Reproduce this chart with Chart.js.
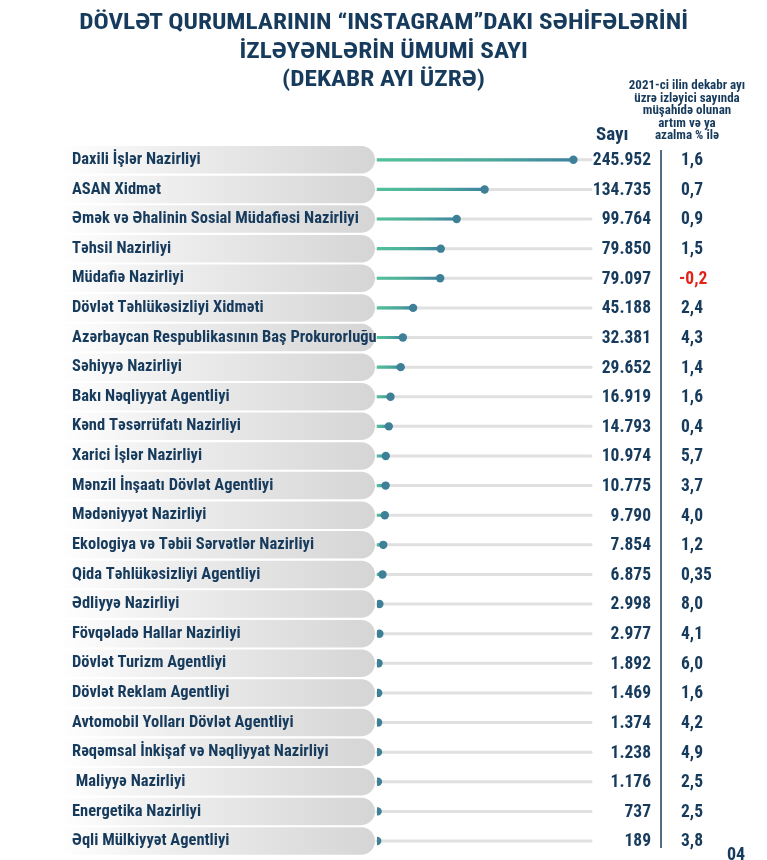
<!DOCTYPE html>
<html><head><meta charset="utf-8">
<script src="https://cdn.jsdelivr.net/npm/chart.js@4.4.0/dist/chart.umd.min.js"></script>
<style>
html,body{margin:0;padding:0;background:#fff;}
#wrap{position:relative;width:767px;height:860px;overflow:hidden;}
canvas{position:absolute;left:0;top:0;}
.t{position:absolute;font-family:"Liberation Sans Narrow","Roboto Condensed",Roboto,sans-serif;font-weight:bold;color:#173b5c;white-space:nowrap;}
#title{left:0;width:767px;top:8px;text-align:center;font-size:22px;line-height:28.5px;transform:scaleX(1.15);transform-origin:383px 0;}
#hdr{left:617px;width:140px;top:79px;text-align:center;font-size:13px;line-height:12.5px;}
#sayi{left:596px;top:122px;font-size:19px;}
#page{left:727px;top:843px;font-size:18px;}
</style></head><body>
<div id="wrap">
<canvas id="c" width="767" height="860"></canvas>
<div class="t" id="title">DÖVLƏT QURUMLARININ “INSTAGRAM”DAKI SƏHİFƏLƏRİNİ<br>İZLƏYƏNLƏRİN ÜMUMİ SAYI<br>(DEKABR AYI ÜZRƏ)</div>
<div class="t" id="hdr">2021-ci ilin dekabr ayı<br>üzrə izləyici sayında<br>müşahidə olunan<br>artım və ya<br>azalma % ilə</div>
<div class="t" id="sayi">Sayı</div>
<div class="t" id="page">04</div>
</div>
<script>
const categories = ["Daxili İşlər Nazirliyi","ASAN Xidmət","Əmək və Əhalinin Sosial Müdafiəsi Nazirliyi","Təhsil Nazirliyi","Müdafiə Nazirliyi","Dövlət Təhlükəsizliyi Xidməti","Azərbaycan Respublikasının Baş Prokurorluğu","Səhiyyə Nazirliyi","Bakı Nəqliyyat Agentliyi","Kənd Təsərrüfatı Nazirliyi","Xarici İşlər Nazirliyi","Mənzil İnşaatı Dövlət Agentliyi","Mədəniyyət Nazirliyi","Ekologiya və Təbii Sərvətlər Nazirliyi","Qida Təhlükəsizliyi Agentliyi","Ədliyyə Nazirliyi","Fövqəladə Hallar Nazirliyi","Dövlət Turizm Agentliyi","Dövlət Reklam Agentliyi","Avtomobil Yolları Dövlət Agentliyi","Rəqəmsal İnkişaf və Nəqliyyat Nazirliyi"," Maliyyə Nazirliyi","Energetika Nazirliyi","Əqli Mülkiyyət Agentliyi"];
const followers = [245952,134735,99764,79850,79097,45188,32381,29652,16919,14793,10974,10775,9790,7854,6875,2998,2977,1892,1469,1374,1238,1176,737,189];
const changePct = [1.6,0.7,0.9,1.5,-0.2,2.4,4.3,1.4,1.6,0.4,5.7,3.7,4.0,1.2,0.35,8.0,4.1,6.0,1.6,4.2,4.9,2.5,2.5,3.8];

const FONT = '"Liberation Sans Narrow","Roboto Condensed",Roboto,sans-serif';
const NAVY = '#173b5c';

function fmtThousands(v){ return String(v).replace(/\B(?=(\d{3})+(?!\d))/g,'.'); }
function fmtPct(v){ let s=String(v); if(s.indexOf('.')<0) s+='.0'; return s.replace('.',','); }

const decor = {
  id:'decor',
  beforeDraw(chart){
    const ctx=chart.ctx, a=chart.chartArea, ys=chart.scales.y;
    ctx.save();
    categories.forEach((c,i)=>{
      const y=ys.getPixelForValue(i);
      const h=27.5, x0=58, x1=375, r=h/2;
      const g=ctx.createLinearGradient(x0,0,x1,0);
      g.addColorStop(0,'#ffffff'); g.addColorStop(0.35,'#eeeeee'); g.addColorStop(1,'#d5d5d5');
      ctx.fillStyle=g;
      ctx.beginPath();
      ctx.moveTo(x0,y-r); ctx.lineTo(x1-r,y-r);
      ctx.arc(x1-r,y,r,-Math.PI/2,Math.PI/2);
      ctx.lineTo(x0,y+r); ctx.closePath(); ctx.fill();
      ctx.strokeStyle='#e0e0e0'; ctx.lineWidth=3; ctx.lineCap='round';
      ctx.beginPath(); ctx.moveTo(a.left,y); ctx.lineTo(a.right,y); ctx.stroke();
    });
    ctx.restore();
  },
  afterDraw(chart){
    const ctx=chart.ctx, ys=chart.scales.y;
    ctx.save();
    ctx.font='bold 17.5px '+FONT;
    ctx.textBaseline='middle';
    followers.forEach((v,i)=>{
      const y=ys.getPixelForValue(i)+1;
      ctx.fillStyle=NAVY; ctx.textAlign='right';
      ctx.fillText(fmtThousands(v),651,y);
      const p=changePct[i];
      ctx.fillStyle=p<0?'#e2231a':NAVY; ctx.textAlign='left';
      ctx.fillText(fmtPct(p),p<0?679:681,y);
    });
    ctx.strokeStyle=NAVY; ctx.lineWidth=1.5;
    ctx.beginPath(); ctx.moveTo(661,150); ctx.lineTo(661,848); ctx.stroke();
    ctx.restore();
  }
};

new Chart(document.getElementById('c'),{
  type:'bar',
  data:{labels:categories,datasets:[
    {type:'bar',indexAxis:'y',data:followers,barThickness:2.5,borderWidth:0,order:2,
     backgroundColor(c){
       const ch=c.chart,a=ch.chartArea,xs=ch.scales.x;
       if(!a||!xs||typeof c.raw!=='number') return '#4fbf95';
       const x1=Math.max(xs.getPixelForValue(c.raw),a.left+2);
       const g=ch.ctx.createLinearGradient(a.left,0,x1,0);
       g.addColorStop(0,'#52c29a'); g.addColorStop(0.6,'#4aa89b'); g.addColorStop(1,'#3e82a0');
       return g;
     }},
    {type:'line',indexAxis:'y',data:followers,showLine:false,pointRadius:4.2,pointHoverRadius:4.2,
     pointBackgroundColor:'#3d8098',pointBorderWidth:0,order:1}
  ]},
  options:{
    indexAxis:'y',responsive:false,animation:false,
    layout:{padding:{left:72,right:176,top:145,bottom:1}},
    plugins:{legend:{display:false},tooltip:{enabled:false}},
    scales:{
      x:{type:'linear',min:0,max:268000,display:false},
      y:{type:'category',grid:{display:false},border:{display:false},
         ticks:{crossAlign:'far',padding:0,color:NAVY,font:{family:FONT,size:16.5,weight:'bold'}},
         afterFit(s){s.width=305;s.paddingTop=0;s.paddingBottom=0;}}
    }
  },
  plugins:[decor]
});
</script>
</body></html>
